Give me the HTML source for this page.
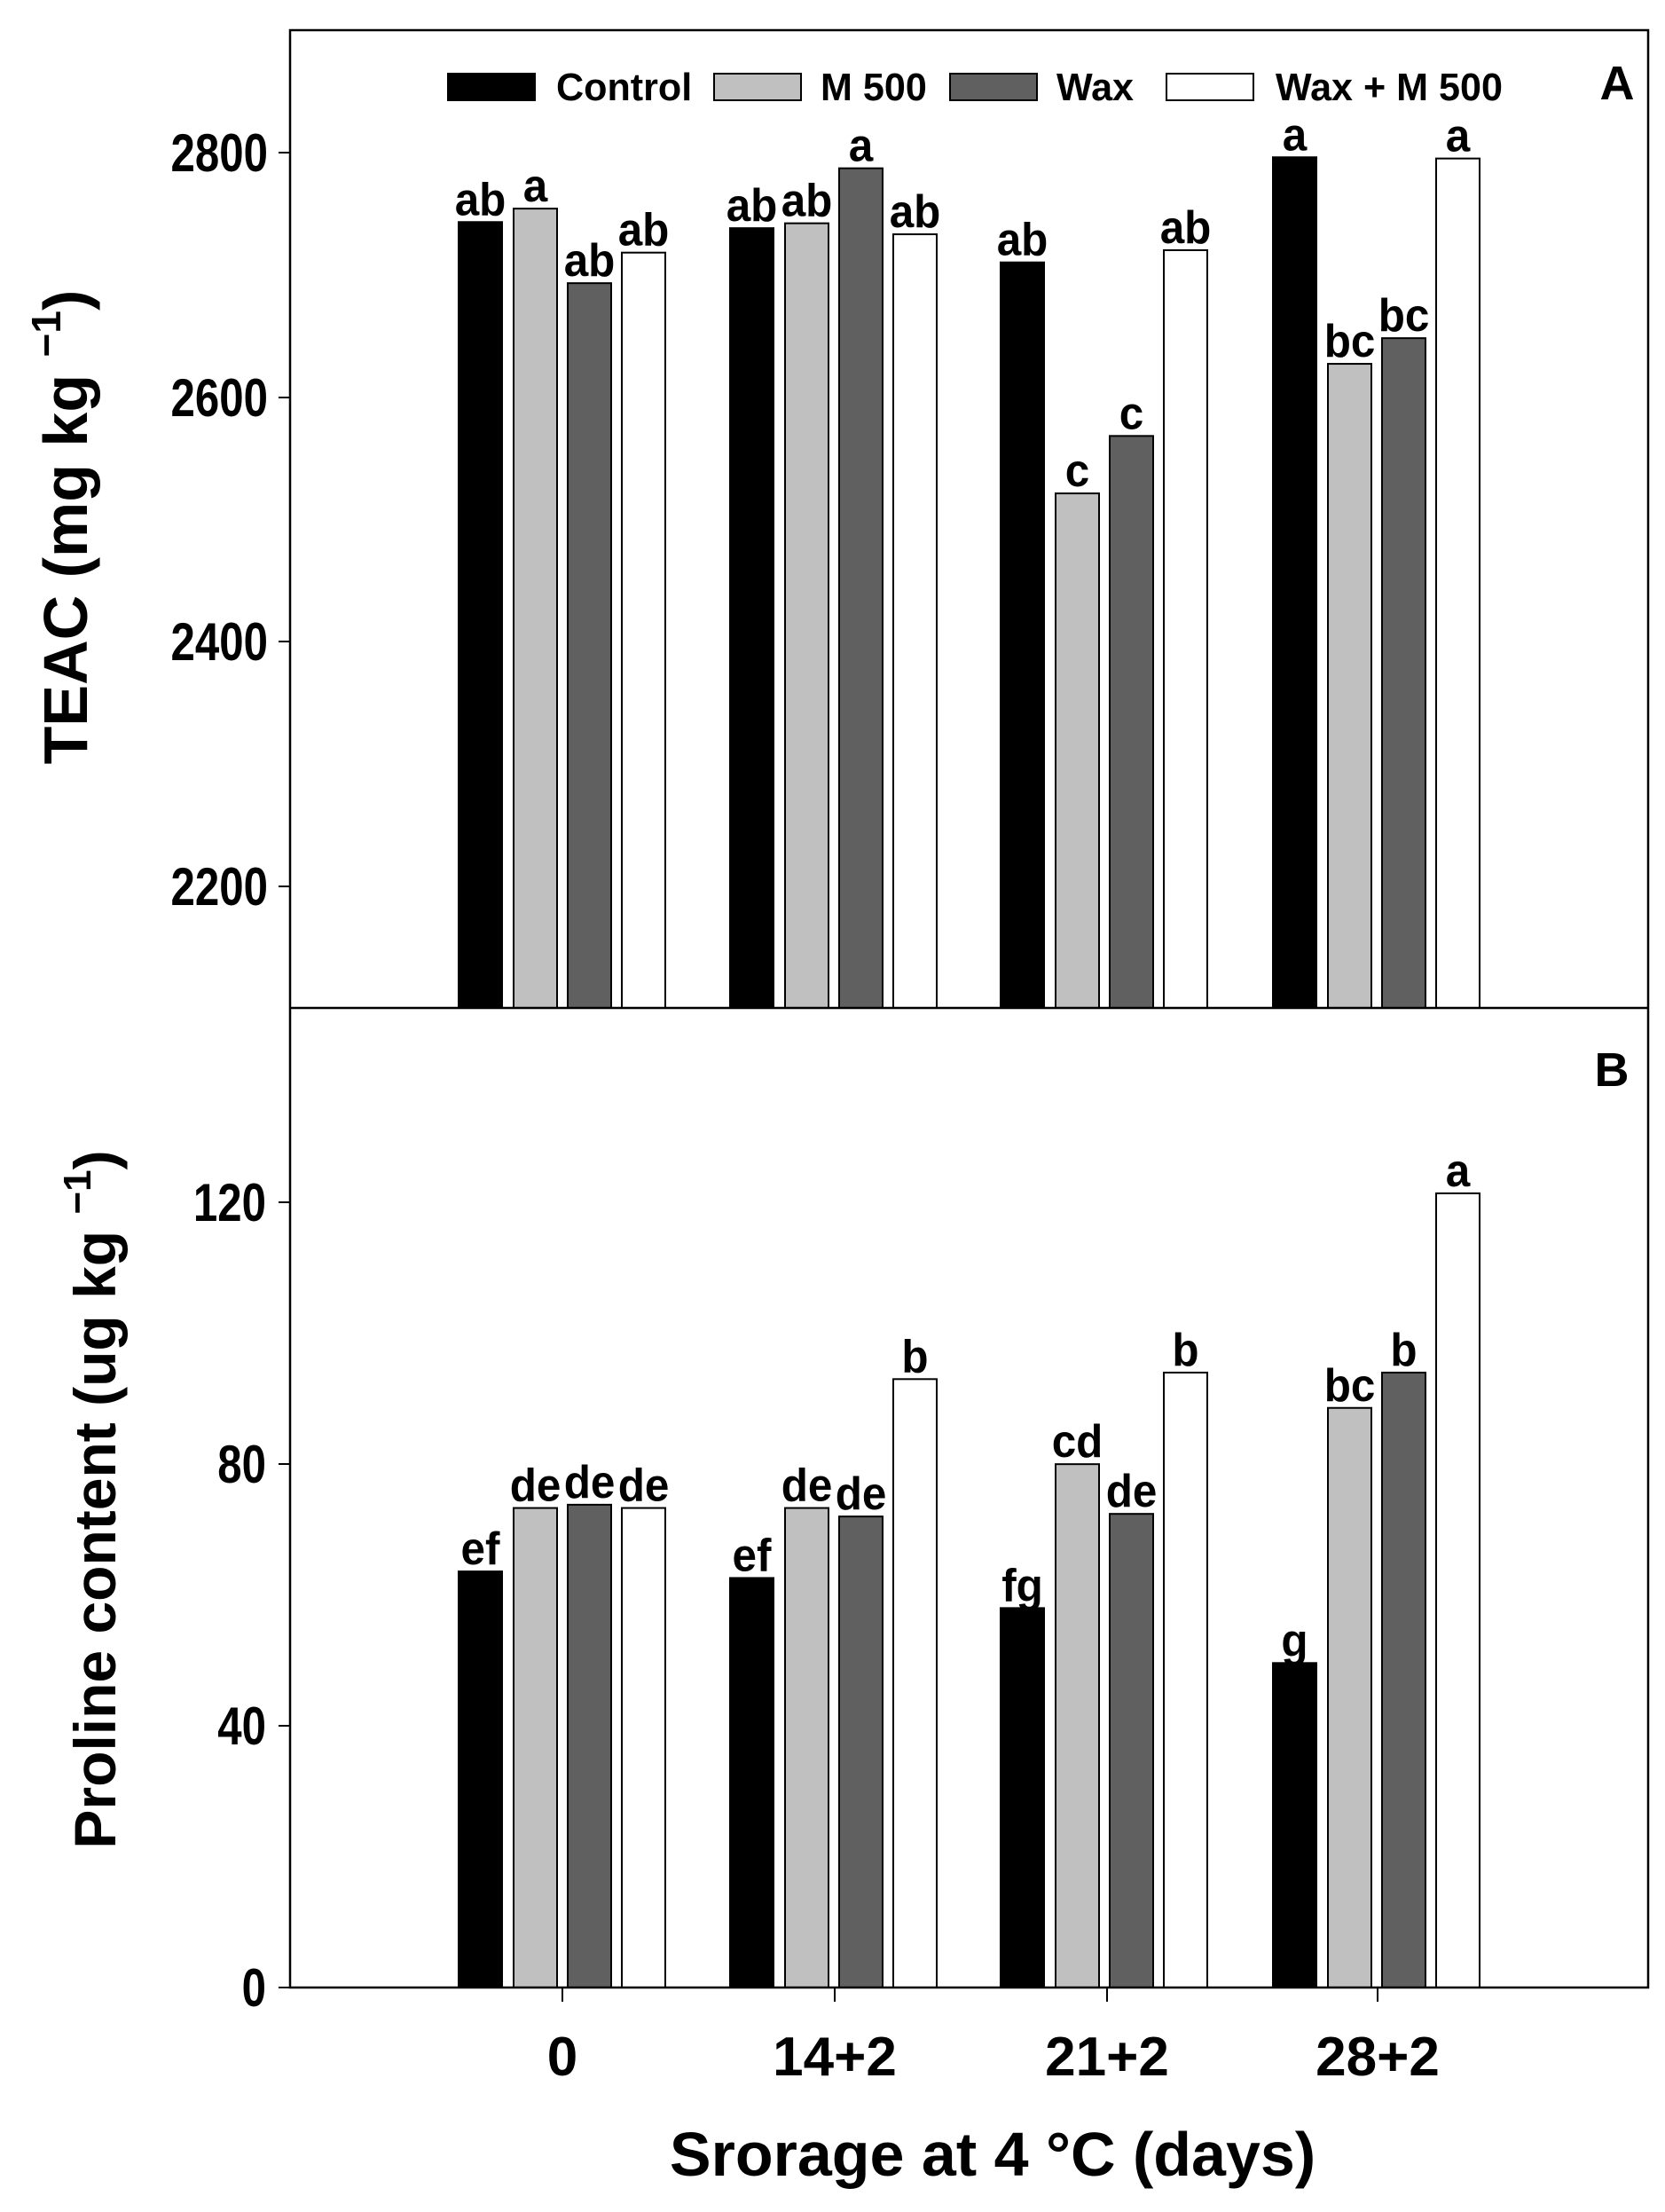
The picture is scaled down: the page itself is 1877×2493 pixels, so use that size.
<!DOCTYPE html>
<html><head><meta charset="utf-8"><style>html,body{margin:0;padding:0;background:#fff}svg{display:block}</style></head>
<body>
<svg width="1877" height="2493" viewBox="0 0 1877 2493" xmlns="http://www.w3.org/2000/svg" font-family="Liberation Sans, Arial, sans-serif" font-weight="bold">
<rect width="1877" height="2493" fill="#fff"/>
<g id="bars" stroke="#000" stroke-width="2"></g>
<g id="labels" font-size="52" text-anchor="middle"></g>
<rect x="327" y="34" width="1531" height="2206" fill="none" stroke="#000" stroke-width="2.5"/>
<line x1="327" y1="1136" x2="1858" y2="1136" stroke="#000" stroke-width="2.5"/>
<g stroke="#000" stroke-width="2">
<line x1="314" y1="172" x2="327" y2="172"/><line x1="314" y1="448" x2="327" y2="448"/><line x1="314" y1="723" x2="327" y2="723"/><line x1="314" y1="999" x2="327" y2="999"/>
<line x1="314" y1="1355" x2="327" y2="1355"/><line x1="314" y1="1650" x2="327" y2="1650"/><line x1="314" y1="1945" x2="327" y2="1945"/><line x1="314" y1="2240" x2="327" y2="2240"/>
<line x1="634" y1="2240" x2="634" y2="2256"/><line x1="941" y1="2240" x2="941" y2="2256"/><line x1="1248" y1="2240" x2="1248" y2="2256"/><line x1="1553" y1="2240" x2="1553" y2="2256"/>
</g>
<g font-size="60" text-anchor="end">
<text transform="translate(302,193) scale(0.82,1)">2800</text>
<text transform="translate(302,469) scale(0.82,1)">2600</text>
<text transform="translate(302,744) scale(0.82,1)">2400</text>
<text transform="translate(302,1020) scale(0.82,1)">2200</text>
<text transform="translate(300,1376) scale(0.82,1)">120</text>
<text transform="translate(300,1671) scale(0.82,1)">80</text>
<text transform="translate(300,1966) scale(0.82,1)">40</text>
<text transform="translate(300,2261) scale(0.82,1)">0</text>
</g>
<g font-size="62" text-anchor="middle">
<text transform="translate(634,2339) scale(1.0,1)">0</text>
<text transform="translate(941,2339) scale(1.0,1)">14+2</text>
<text transform="translate(1248,2339) scale(1.0,1)">21+2</text>
<text transform="translate(1553,2339) scale(1.0,1)">28+2</text>
<text transform="translate(1119,2452)" font-size="70">Srorage at 4 °C (days)</text>
</g>
<text transform="translate(1823,112)" font-size="54" text-anchor="middle">A</text>
<text transform="translate(1817,1224)" font-size="54" text-anchor="middle">B</text>
<text transform="translate(98,594) rotate(-90)" font-size="70" text-anchor="middle">TEAC (mg kg <tspan font-size="46" dy="-30">−1</tspan><tspan dy="30">)</tspan></text>
<text transform="translate(130,1690) rotate(-90)" font-size="66" text-anchor="middle">Proline content (ug kg <tspan font-size="44" dy="-28">−1</tspan><tspan dy="28">)</tspan></text>
<g stroke="#000" stroke-width="2">
<rect x="505" y="83" width="98" height="30" fill="#000"/>
<rect x="805" y="83" width="98" height="30" fill="#c0c0c0"/>
<rect x="1071" y="83" width="98" height="30" fill="#606060"/>
<rect x="1315" y="83" width="98" height="30" fill="#fff"/>
</g>
<g font-size="44">
<text transform="translate(627,113) scale(0.98,1)">Control</text>
<text transform="translate(925,113) scale(0.98,1)">M 500</text>
<text transform="translate(1191,113) scale(0.98,1)">Wax</text>
<text transform="translate(1438,113) scale(0.98,1)">Wax + M 500</text>
</g>
<script>
(function(){
var ns="http://www.w3.org/2000/svg";
var fills=["#000","#c0c0c0","#606060","#fff"];
var g0=[517,823,1128,1435], off=[0,62,123,184], w=49;
var A=[[2743,2754,2693,2718],[2738,2742,2787,2733],[2710,2521,2568,2720],[2796,2627,2648,2795]];
var AL=[["ab","a","ab","ab"],["ab","ab","a","ab"],["ab","c","c","ab"],["a","bc","bc","a"]];
var B=[[63.6,73.3,73.8,73.3],[62.6,73.3,72,93],[58,80,72.4,94],[49.6,88.6,94,121.4]];
var BL=[["ef","de","de","de"],["ef","de","de","b"],["fg","cd","de","b"],["g","bc","b","a"]];
var bars=document.getElementById("bars"), labs=document.getElementById("labels");
function bar(x,y,b,k){var r=document.createElementNS(ns,"rect");r.setAttribute("x",x);r.setAttribute("y",y);r.setAttribute("width",w);r.setAttribute("height",b-y);r.setAttribute("fill",fills[k]);bars.appendChild(r);}
function lab(x,y,t){var e=document.createElementNS(ns,"text");e.setAttribute("transform","translate("+x+","+y+") scale(0.95,1)");e.textContent=t;labs.appendChild(e);}
for(var i=0;i<4;i++)for(var j=0;j<4;j++){
 var x=g0[i]+off[j];
 var ya=1136-(A[i][j]-2100)*1.3775;
 bar(x,ya,1136,j); lab(x+w/2,ya-8,AL[i][j]);
 var yb=2240-B[i][j]*7.373;
 bar(x,yb,2240,j); lab(x+w/2,yb-8,BL[i][j]);
}
})();
</script>
</svg>
</body></html>
